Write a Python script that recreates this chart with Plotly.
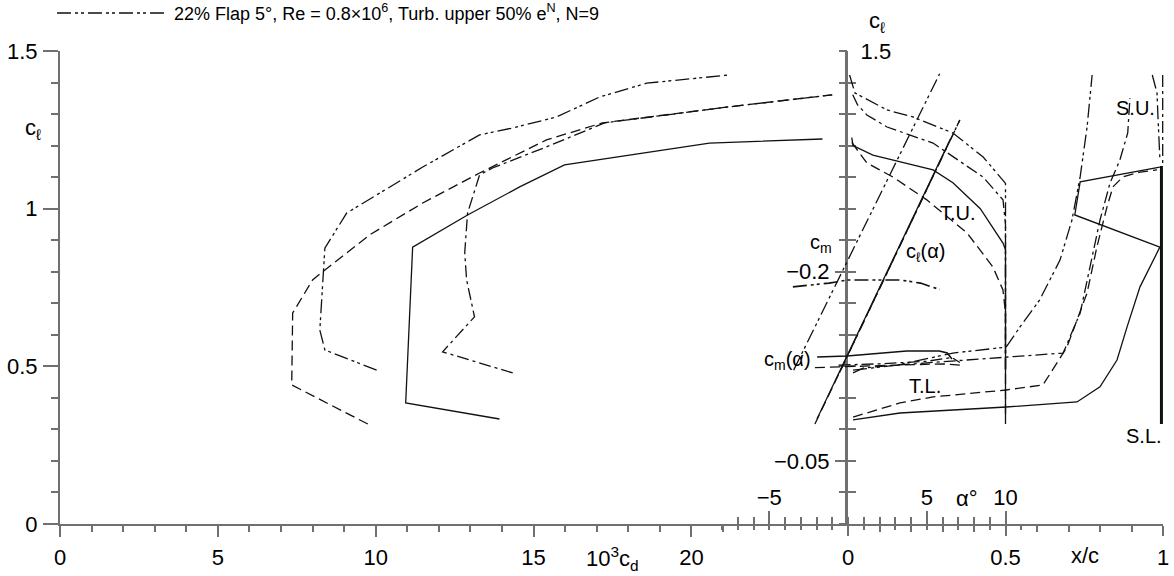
import plotly.graph_objects as go

# ---------------- data ----------------
# drag polar: 10^3 c_d  vs  c_l
cd_solid = [13.92, 10.95, 11.17, 12.91, 14.56, 15.98, 20.57, 24.15]
cl_solid = [0.333, 0.384, 0.878, 0.980, 1.069, 1.139, 1.208, 1.221]
cd_dash = [9.75, 7.34, 7.37, 8.00, 8.32, 9.81, 11.49, 13.29, 15.41, 17.18, 21.20, 24.46]
cl_dash = [0.317, 0.441, 0.669, 0.774, 0.800, 0.917, 1.018, 1.113, 1.218, 1.272, 1.323, 1.361]
cd_dashdot = [14.34, 12.12, 13.13, 12.88, 12.82, 12.91, 13.29, 13.70, 15.41, 17.25, 21.20, 24.46]
cl_dashdot = [0.479, 0.546, 0.657, 0.774, 0.860, 0.986, 1.107, 1.129, 1.196, 1.272, 1.323, 1.361]
cd_flap5 = [10.03, 8.39, 8.23, 8.32, 8.39, 9.08, 11.49, 13.29, 14.34, 15.73, 17.09, 18.58, 21.20]
cl_flap5 = [0.488, 0.552, 0.615, 0.774, 0.875, 0.986, 1.132, 1.234, 1.256, 1.291, 1.354, 1.398, 1.424]

# lift curves c_l(alpha)
a_cla_solid = [-1.97, 6.50];  cla_solid = [0.333, 1.221]
a_cla_dash = [-2.10, 7.10];   cla_dash = [0.317, 1.281]
a_cla_dashdot = [-0.55, 7.10]; cla_dashdot = [0.479, 1.281]
a_cla_flap5 = [-3.45, 5.82];  cla_flap5 = [0.488, 1.428]

# moment curves c_m(alpha)
a_cm_solid = [-1.96, -0.06, 3.73, 5.80, 6.30, 6.60]
cm_solid = [-0.1324, -0.1332, -0.1372, -0.1372, -0.1356, -0.1308]
a_cm_dash = [-2.10, 0.30, 3.20, 6.00, 7.10]
cm_dash = [-0.124, -0.125, -0.126, -0.127, -0.126]
a_cm_dashdot = [-0.60, 2.00, 5.00, 6.60, 7.10]
cm_dashdot = [-0.126, -0.127, -0.129, -0.132, -0.128]
a_cm_flap5 = [-3.50, -1.20, 0.00, 3.30, 4.60, 5.80]
cm_flap5 = [-0.188, -0.191, -0.1935, -0.1935, -0.191, -0.186]

# transition upper surface (x/c, c_l)
tu_xc_solid = [0.012, 0.016, 0.079, 0.270, 0.333, 0.420, 0.492, 0.500, 0.500]
tu_cl_solid = [1.225, 1.200, 1.170, 1.123, 1.082, 1.000, 0.891, 0.870, 0.333]
tu_xc_dash = [0.012, 0.060, 0.143, 0.250, 0.378, 0.460, 0.492, 0.500, 0.500]
tu_cl_dash = [1.210, 1.145, 1.100, 1.028, 0.923, 0.815, 0.742, 0.669, 0.317]
tu_xc_dashdot = [0.015, 0.030, 0.060, 0.124, 0.270, 0.429, 0.492, 0.500, 0.500]
tu_cl_dashdot = [1.361, 1.330, 1.297, 1.259, 1.208, 1.100, 1.028, 0.950, 0.479]
tu_xc_flap5 = [0.005, 0.022, 0.124, 0.206, 0.333, 0.429, 0.492, 0.500, 0.500]
tu_cl_flap5 = [1.424, 1.367, 1.313, 1.291, 1.240, 1.164, 1.090, 1.080, 0.488]

# transition lower surface (x/c, c_l)
tl_xc_solid = [0.016, 0.165, 0.502, 0.727, 0.800, 0.854, 0.886, 0.927, 0.990, 0.720, 0.737, 0.990]
tl_cl_solid = [0.330, 0.352, 0.371, 0.387, 0.435, 0.520, 0.625, 0.752, 0.878, 0.980, 1.085, 1.132]
tl_xc_dash = [0.016, 0.165, 0.270, 0.502, 0.619, 0.695, 0.759, 0.790, 0.822, 0.841, 0.873, 0.927, 0.981]
tl_cl_dash = [0.339, 0.384, 0.403, 0.425, 0.441, 0.561, 0.733, 0.878, 1.005, 1.069, 1.101, 1.116, 1.123]
tl_xc_dashdot = [0.016, 0.050, 0.165, 0.502, 0.683, 0.737, 0.768, 0.800, 0.832, 0.863, 0.888, 0.895]
tl_cl_dashdot = [0.479, 0.495, 0.505, 0.530, 0.542, 0.669, 0.815, 0.964, 1.082, 1.154, 1.240, 1.350]
tl_xc_flap5 = [0.016, 0.156, 0.333, 0.502, 0.546, 0.608, 0.673, 0.711, 0.737, 0.759, 0.775]
tl_cl_flap5 = [0.488, 0.504, 0.542, 0.561, 0.625, 0.710, 0.837, 0.964, 1.101, 1.259, 1.424]

# separation lines near the trailing edge
sl_xc = [0.995, 0.995]; sl_cl = [0.317, 1.135]
su_xc_flap5 = [0.966, 0.981, 0.984, 0.990]; su_cl_flap5 = [1.424, 1.367, 1.291, 1.160]
su_xc_dashdot = [0.999, 0.999]; su_cl_dashdot = [1.424, 1.140]

legend_text = "22% Flap 5°, Re = 0.8×10<sup>6</sup>, Turb. upper 50% e<sup>N</sup>, N=9"

# ---------------- layout helpers ----------------
W, H = 1174, 576
FONT = "Liberation Sans, Arial, sans-serif"
FS = 22      # tick labels
FA = 20      # curve labels
INK = "#111111"
AXC = "#707070"

def X(px):
    return px / W

def Y(py):
    return 1 - py / H

CD0, CDPX = 60.0, 31.57
CL0, CLPX = 524.0, 315.33
XC0, XCPX = 848.0, 315.0
ALPX = 15.75
CMPX = 4 * CLPX

SOLID = "solid"
DASH = "10px,5px"
DASHDOT = "12px,4px,3px,4px"
DASHDOTDOT = "14px,4px,3px,3px,3px,4px"

fig = go.Figure()

# empty traces so that the display axes (scales only) are created and drawn
for xa, ya in [("x", "y"), ("x2", "y2"), ("x2", "y3"), ("x3", "y3"), ("x7", "y3")]:
    fig.add_trace(go.Scatter(x=[None], y=[None], xaxis=xa, yaxis=ya, mode="lines",
                             showlegend=False, hoverinfo="skip"))

def add(x, y, dash, xa, ya, width=1.3):
    fig.add_trace(go.Scatter(x=x, y=y, mode="lines", xaxis=xa, yaxis=ya,
                             line=dict(color=INK, width=width, dash=dash),
                             showlegend=False, hoverinfo="skip"))

# polars
add(cd_solid, cl_solid, SOLID, "x4", "y4")
add(cd_dash, cl_dash, DASH, "x4", "y4")
add(cd_dashdot, cl_dashdot, DASHDOT, "x4", "y4")
add(cd_flap5, cl_flap5, DASHDOTDOT, "x4", "y4")
# transition curves
add(tu_xc_solid, tu_cl_solid, SOLID, "x5", "y4")
add(tu_xc_dash, tu_cl_dash, DASH, "x5", "y4")
add(tu_xc_dashdot, tu_cl_dashdot, DASHDOT, "x5", "y4")
add(tu_xc_flap5, tu_cl_flap5, DASHDOTDOT, "x5", "y4")
add(tl_xc_solid, tl_cl_solid, SOLID, "x5", "y4")
add(tl_xc_dash, tl_cl_dash, DASH, "x5", "y4")
add(tl_xc_dashdot, tl_cl_dashdot, DASHDOT, "x5", "y4")
add(tl_xc_flap5, tl_cl_flap5, DASHDOTDOT, "x5", "y4")
add(sl_xc, sl_cl, SOLID, "x5", "y4", width=3)
add(su_xc_flap5, su_cl_flap5, DASHDOTDOT, "x5", "y4")
add(su_xc_dashdot, su_cl_dashdot, DASHDOT, "x5", "y4")
# lift curves
add(a_cla_solid, cla_solid, SOLID, "x6", "y4")
add(a_cla_dash, cla_dash, DASH, "x6", "y4")
add(a_cla_dashdot, cla_dashdot, DASHDOT, "x6", "y4")
add(a_cla_flap5, cla_flap5, DASHDOTDOT, "x6", "y4")
# moment curves
add(a_cm_solid, cm_solid, SOLID, "x6", "y5", width=1.6)
add(a_cm_dash, cm_dash, DASH, "x6", "y5")
add(a_cm_dashdot, cm_dashdot, DASHDOT, "x6", "y5")
add(a_cm_flap5, cm_flap5, DASHDOTDOT, "x6", "y5", width=1.6)

tickfont = dict(family=FONT, size=FS, color="black")
hidden = dict(visible=False, showgrid=False, zeroline=False, domain=[0, 1])
cl_dom = [Y(CL0), Y(CL0 - 1.5 * CLPX)]
al_dom = [X(XC0 - 8 * ALPX), X(XC0 + 11 * ALPX)]

fig.update_layout(
    width=W, height=H,
    margin=dict(l=0, r=0, t=0, b=0, pad=0, autoexpand=False),
    paper_bgcolor="white", plot_bgcolor="rgba(0,0,0,0)",
    showlegend=False,
    font=dict(family=FONT, size=FS, color="black"),
    # ---- display axes ----
    xaxis=dict(domain=[X(CD0), X(CD0 + 21 * CDPX)], range=[0, 21], anchor="y",
               showgrid=False, zeroline=False, showline=True, linecolor=AXC, linewidth=2,
               ticks="outside", tickvals=[0, 5, 10, 15, 20], ticklen=11, tickwidth=2,
               tickcolor=AXC, tickfont=tickfont, ticklabelstandoff=2,
               minor=dict(dtick=1, tick0=0, ticks="outside", ticklen=6, tickwidth=1.5,
                          tickcolor=AXC)),
    yaxis=dict(domain=cl_dom, range=[0, 1.5], anchor="x",
               showgrid=False, zeroline=False, showline=True, linecolor=AXC, linewidth=2,
               ticks="outside", tickvals=[0, 0.5, 1, 1.5], ticktext=["0", "0.5", "1", "1.5"],
               ticklen=15, tickwidth=2, tickcolor=AXC, tickfont=tickfont, ticklabelstandoff=1,
               minor=dict(dtick=0.1, tick0=0, ticks="outside", ticklen=7, tickwidth=1.5,
                          tickcolor=AXC)),
    xaxis2=dict(domain=[X(XC0), X(XC0 + XCPX)], range=[0, 1], anchor="y2",
                showgrid=False, zeroline=False, showline=True, linecolor=AXC, linewidth=2,
                ticks="outside", tickvals=[0, 0.5, 1], ticktext=["0", "0.5", "1"],
                ticklen=10, tickwidth=2, tickcolor=AXC, tickfont=tickfont, ticklabelstandoff=3,
                minor=dict(dtick=0.1, tick0=0, ticks="outside", ticklen=6, tickwidth=1.5,
                           tickcolor=AXC)),
    yaxis2=dict(domain=cl_dom, range=[0, 1.5], anchor="x2",
                showgrid=False, zeroline=False, showline=True, linecolor=AXC, linewidth=3,
                ticks="inside", tickvals=[1.5], ticktext=["1.5"], ticklen=14, tickwidth=2,
                tickcolor=AXC, tickfont=tickfont, ticklabelposition="inside",
                ticklabeloverflow="allow", ticklabelstandoff=0,
                minor=dict(dtick=0.1, tick0=0, ticks="inside", ticklen=8, tickwidth=1.5,
                           tickcolor=AXC)),
    yaxis3=dict(domain=cl_dom, range=[0, -0.375], anchor="x2",
                showgrid=False, zeroline=False, showline=False,
                ticks="outside", tickvals=[-0.2, -0.05], ticktext=["−0.2", "−0.05"],
                ticklen=12, tickwidth=2, tickcolor=AXC, tickfont=tickfont, ticklabelstandoff=1,
                minor=dict(dtick=0.025, tick0=0, ticks="outside", ticklen=8, tickwidth=1.5,
                           tickcolor=AXC)),
    xaxis3=dict(domain=al_dom, range=[-8, 11], anchor="y3",
                showgrid=False, zeroline=False, showline=True, linecolor=AXC, linewidth=2,
                ticks="inside", tickvals=[-5, 5, 10], ticktext=["−5", "5", "10"],
                ticklen=13, tickwidth=2, tickcolor=AXC, tickfont=tickfont,
                ticklabelposition="inside", ticklabeloverflow="allow", ticklabelstandoff=3,
                minor=dict(dtick=1, tick0=0, ticks="inside", ticklen=7, tickwidth=1.5,
                           tickcolor=AXC)),
    # second copy of the alpha scale: small ticks below the line
    xaxis7=dict(domain=al_dom, range=[-8, 11], anchor="y3",
                showgrid=False, zeroline=False, showline=False, showticklabels=False,
                ticks="outside", dtick=1, tick0=0, ticklen=5, tickwidth=1.5, tickcolor=AXC),
    # ---- data axes (same scales, full figure) ----
    xaxis4=dict(hidden, anchor="y4", range=[(0 - CD0) / CDPX, (W - CD0) / CDPX]),
    yaxis4=dict(hidden, anchor="x4", range=[(CL0 - H) / CLPX, CL0 / CLPX]),
    xaxis5=dict(hidden, anchor="y4", range=[(0 - XC0) / XCPX, (W - XC0) / XCPX]),
    xaxis6=dict(hidden, anchor="y4", range=[(0 - XC0) / ALPX, (W - XC0) / ALPX]),
    yaxis5=dict(hidden, anchor="x6", range=[(H - CL0) / CMPX, -CL0 / CMPX]),
)

def note(text, px, py, size=FA, xanchor="center", yanchor="middle"):
    fig.add_annotation(text=text, x=X(px), y=Y(py), xref="paper", yref="paper",
                       showarrow=False, xanchor=xanchor, yanchor=yanchor,
                       font=dict(family=FONT, size=size, color="black"))

note("c<sub>ℓ</sub>", 33, 129, size=FS)
note("c<sub>ℓ</sub>", 877, 22, size=FS)
note("c<sub>m</sub>", 821, 243)
note("c<sub>ℓ</sub>(α)", 926, 252)
note("T.U.", 958, 213)
note("T.L.", 925, 386)
note("c<sub>m</sub>(α)", 787, 360)
note("S.U.", 1135, 108)
note("S.L.", 1144, 436)
note("10<sup>3</sup>c<sub>d</sub>", 612, 558, size=FS)
note("α°", 967, 498, size=FS)
note("x/c", 1085, 555, size=FS)

# legend entry
fig.add_shape(type="line", xref="paper", yref="paper", x0=X(57), x1=X(168), y0=Y(13), y1=Y(13),
              line=dict(color=INK, width=1.3, dash=DASHDOTDOT))
note(legend_text, 172, 13, size=18, xanchor="left")

fig.write_html("out.html")
